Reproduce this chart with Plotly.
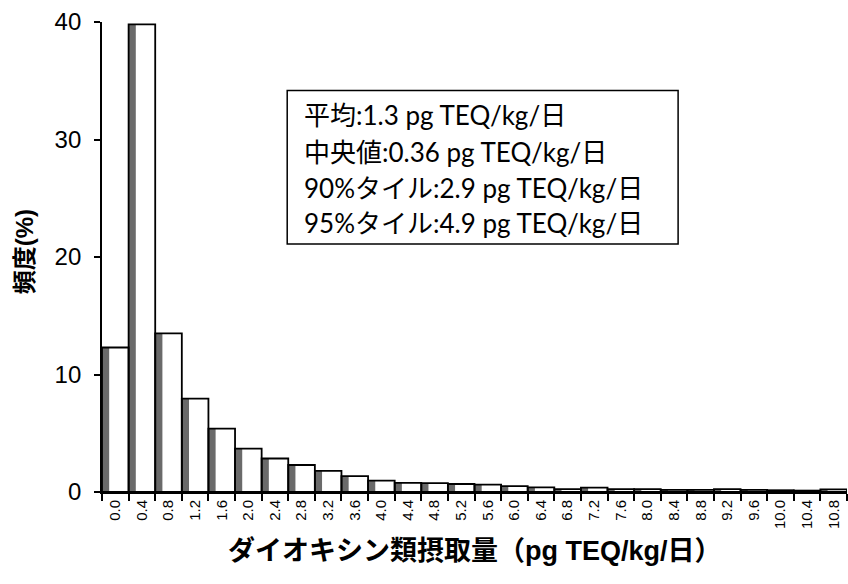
import plotly.graph_objects as go

categories = ["0.0", "0.4", "0.8", "1.2", "1.6", "2.0", "2.4", "2.8", "3.2", "3.6",
              "4.0", "4.4", "4.8", "5.2", "5.6", "6.0", "6.4", "6.8", "7.2", "7.6",
              "8.0", "8.4", "8.8", "9.2", "9.6", "10.0", "10.4", "10.8"]
frequency = [12.3, 39.8, 13.5, 7.95, 5.4, 3.7, 2.85, 2.3, 1.8, 1.35,
             0.97, 0.77, 0.75, 0.68, 0.62, 0.5, 0.4, 0.25, 0.38, 0.25,
             0.25, 0.18, 0.18, 0.25, 0.18, 0.15, 0.12, 0.22]
y_ticks = [0, 10, 20, 30, 40]
stats_lines = ["平均:1.3 pg TEQ/kg/日",
               "中央値:0.36 pg TEQ/kg/日",
               "90%タイル:2.9 pg TEQ/kg/日",
               "95%タイル:4.9 pg TEQ/kg/日"]
x_title = "ダイオキシン類摂取量（pg TEQ/kg/日）"
y_title = "頻度(%)"

fig = go.Figure()
# shaded left part (full width, gray)
fig.add_trace(go.Bar(x=categories, y=frequency, width=1, offset=-0.5,
                     marker=dict(color="#6a6a6a", line=dict(width=0)),
                     hoverinfo="skip", showlegend=False))
# white face
fig.add_trace(go.Bar(x=categories, y=frequency, width=0.73, offset=-0.23,
                     marker=dict(color="white", line=dict(width=0)),
                     showlegend=False))
# outline
fig.add_trace(go.Bar(x=categories, y=frequency, width=1, offset=-0.5,
                     marker=dict(color="rgba(0,0,0,0)", line=dict(color="black", width=1.8)),
                     hoverinfo="skip", showlegend=False))

fig.update_layout(
    width=848, height=584,
    barmode="overlay",
    paper_bgcolor="white", plot_bgcolor="white",
    margin=dict(l=102, r=1, t=22, b=92),
    font=dict(family="Arial, Liberation Sans, Noto Sans CJK JP", color="black"),
    xaxis=dict(type="category", tickson="boundaries", ticks="outside", ticklen=7,
               tickwidth=1.8, tickcolor="black", showline=True, linecolor="black",
               linewidth=1.8, showgrid=False, tickangle=-90, automargin=False,
               tickfont=dict(size=15, family="Arial, Liberation Sans"),
               range=[-0.5, len(categories) - 0.5]),
    yaxis=dict(range=[0, 40], tickvals=y_ticks, ticks="outside", ticklen=6,
               tickwidth=1.8, tickcolor="black", showline=True, linecolor="black",
               linewidth=1.8, showgrid=False, zeroline=False, automargin=False,
               tickfont=dict(size=24, family="Arial, Liberation Sans"),
               ticklabelstandoff=8),
    showlegend=False,
)

fig.add_shape(type="rect", xref="paper", yref="paper",
              x0=0.2486, x1=0.7733, y0=0.5277, y1=0.8543,
              line=dict(color="black", width=1.5), fillcolor="white", layer="above")

line_y = [0.8025, 0.7243, 0.647, 0.5724]
for txt, yy in zip(stats_lines, line_y):
    fig.add_annotation(text=txt, xref="paper", yref="paper", x=0.2684, y=yy,
                       xanchor="left", yanchor="middle", showarrow=False,
                       font=dict(size=26, family="Lato, Noto Sans CJK JP", color="black"))

fig.add_annotation(text="<b>" + x_title + "</b>", xref="paper", yref="paper",
                   x=0.5, y=-0.1242, xanchor="center", yanchor="middle", showarrow=False,
                   font=dict(size=27, family="Arial, Noto Sans CJK JP", color="black"))
fig.add_annotation(text="<b>" + y_title + "</b>", xref="paper", yref="paper",
                   x=-0.1029, y=0.5107, xanchor="center", yanchor="middle", showarrow=False,
                   textangle=-90,
                   font=dict(size=24, family="Arial, Noto Sans CJK JP", color="black"))

fig.write_html("out.html", config={"displayModeBar": False},
               post_script="document.body.style.margin='0px';")
